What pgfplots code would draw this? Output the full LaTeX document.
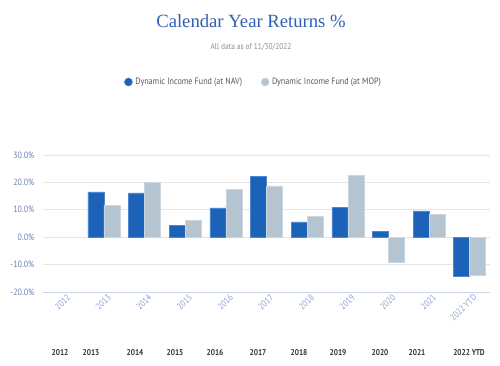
\documentclass[border=0pt]{standalone}
\usepackage{pgfplots}
\pgfplotsset{compat=1.18}
\usepackage{pgfplotstable}
\usepackage{fontspec}
\setmainfont{PT Sans}[FakeStretch=0.88]
\newfontfamily\titlefont{Liberation Serif}
\definecolor{navblue}{HTML}{1C62B8}
\definecolor{navedge}{HTML}{4F88D2}
\definecolor{mopgray}{HTML}{B4C4D0}
\definecolor{mopedge}{HTML}{CBD7E0}
\definecolor{titleblue}{HTML}{2F5FB3}
\definecolor{ylab}{HTML}{6C7CB8}
\definecolor{xlab}{HTML}{8F9FD4}
\definecolor{gridc}{HTML}{E6E6E6}
\definecolor{axc}{HTML}{CCD6EB}
\pgfplotstableread{
x nav mop
1 16.5 11.6
2 16.2 20.0
3 4.4 6.0
4 10.7 17.5
5 22.3 18.7
6 5.6 7.7
7 11.0 22.6
8 2.2 -9.2
9 9.6 8.2
10 -14.3 -14.0
}\datatable
\begin{document}
\begin{tikzpicture}
\path[use as bounding box] (0,0) rectangle (375pt,274.5pt);
\begin{axis}[
  at={(32.25pt,55.5pt)}, anchor=south west,
  scale only axis, width=335.25pt, height=102.75pt,
  xmin=-0.5, xmax=10.5, ymin=-20, ymax=30,
  xtick={0,...,10},
  xticklabels={2012,2013,2014,2015,2016,2017,2018,2019,2020,2021,2022 YTD},
  ytick={-20,-10,0,10,20,30},
  yticklabel={\pgfmathprintnumber[fixed,fixed zerofill,precision=1]{\tick}\%},
  /pgf/number format/assume math mode=true,
  axis y line*=left,
  axis x line*=bottom,
  y axis line style={draw=none},
  x axis line style={draw=axc, line width=0.6pt, -},
  ymajorgrids, grid style={draw=gridc, line width=0.6pt},
  major tick length=0pt,
  tick style={draw=none},
  yticklabel style={font=\fontsize{6.8}{8}\selectfont, text=ylab, anchor=east, xshift=-3pt},
  xticklabel style={font=\fontsize{6.8}{8}\selectfont, text=xlab, rotate=45, anchor=east, inner sep=0pt, yshift=-5pt, xshift=1pt},
  legend columns=2,
  legend style={at={(0.5,1)}, anchor=center, xshift=-9.5pt, yshift=54.75pt, draw=none, fill=none,
    font=\fontsize{6.9}{9}\selectfont\color[HTML]{555555},
    /tikz/every even column/.append style={column sep=12pt}},
  legend image code/.code={\fill[#1] (0.25em,0pt) circle (3pt);},
  clip=false,
]
\addplot[ybar, bar width=12pt, bar shift=-6pt, fill=navblue, draw=navedge, line width=0.4pt] table[x=x,y=nav]{\datatable};
\addlegendentry{Dynamic Income Fund (at NAV)}
\addplot[ybar, bar width=12pt, bar shift=6pt, fill=mopgray, draw=mopedge, line width=0.4pt] table[x=x,y=mop]{\datatable};
\addlegendentry{Dynamic Income Fund (at MOP)}
\end{axis}
\begin{scope}[x=0.75pt,y=0.75pt]
\node[font=\titlefont\fontsize{14}{16}\selectfont, text=titleblue] at (251,345) {Calendar Year Returns \%};
\node[font=\fontsize{6.3}{8}\selectfont, text=black!45] at (251,319) {All data as of 11/30/2022};
\foreach \xx/\lab in {60/2012,91/2013,135/2014,175/2015,215/2016,258/2017,299/2018,338/2019,380/2020,417/2021,469/2022 YTD}
  \node[font=\bfseries\fontsize{6.3}{8}\selectfont, text=black!80] at (\xx,13) {\lab};
\end{scope}
\end{tikzpicture}
\end{document}
